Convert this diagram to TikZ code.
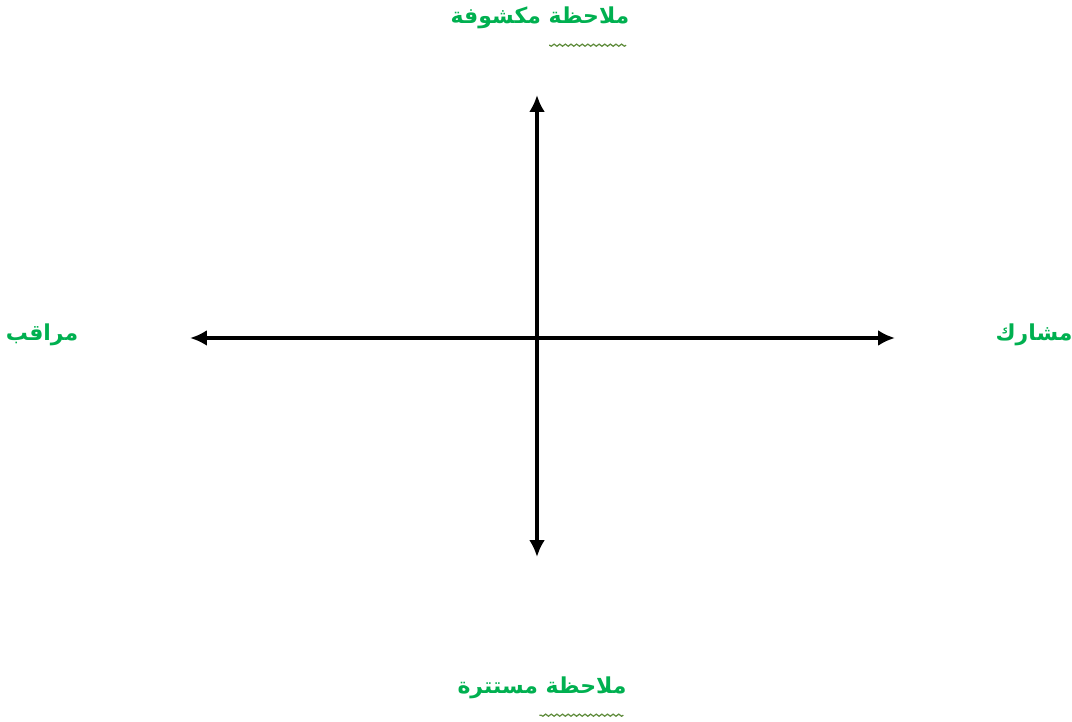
\documentclass[tikz,border=0pt]{standalone}
\usepackage{fontspec}
\usepackage{tikz}
\usetikzlibrary{arrows.meta,positioning,decorations.pathmorphing}
\TeXXeTstate=1
\newfontfamily\arabicfont[Script=Arabic]{DejaVu Sans}
\definecolor{labelgreen}{RGB}{0,176,80}
\definecolor{squiggle}{RGB}{95,140,60}

\begin{document}
\begin{tikzpicture}[x=0.02cm, y=-0.02cm,
    axislabel/.style={text=labelgreen, font=\arabicfont\bfseries\fontsize{12.5}{15}\selectfont, inner sep=0pt},
    axis/.style={{Latex[length=3.4mm,width=3.2mm]}-{Latex[length=3.4mm,width=3.2mm]}, line width=2.2pt},
    squig/.style={draw=squiggle, line width=0.7pt, decorate, decoration={snake, amplitude=0.6pt, segment length=3.2pt}}
  ]
    \useasboundingbox (0,0) rectangle (1072,722);
    % axes
    \coordinate (west) at (190,338);
    \coordinate (east) at (895,338);
    \coordinate (north) at (537,95);
    \coordinate (south) at (537,557);
    \draw[axis] (west) -- (east);
    \draw[axis] (north) -- (south);
    % labels
    \node[axislabel] (topLabel) at (540,18) {\beginR ملاحظة مكشوفة\endR};
    \node[axislabel] (bottomLabel) at (542,688) {\beginR ملاحظة مستترة\endR};
    \node[axislabel] (leftLabel) at (42,335) {\beginR مراقب\endR};
    \node[axislabel] (rightLabel) at (1034,335) {\beginR مشارك\endR};
    \draw[squig] ([xshift=-2pt,yshift=-9pt]topLabel.south east) -- ++(-77,0);
    \draw[squig] ([xshift=-2pt,yshift=-9pt]bottomLabel.south east) -- ++(-84,0);
  \end{tikzpicture}
\end{document}
